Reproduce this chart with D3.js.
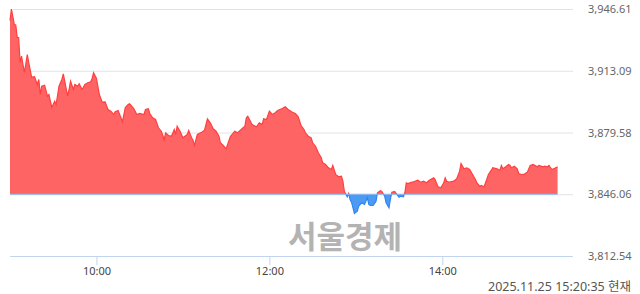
<!DOCTYPE html>
<html>
<head>
<meta charset="utf-8">
<script src="https://cdn.jsdelivr.net/npm/d3@7"></script>
<style>
	body { margin: 0; background: #fff; }
	svg text { font-family: "Noto Sans", "Noto Sans CJK KR", sans-serif; }
</style>
</head>
<body>
<div id="chart-area"></div>
<script>

// minutes after the 09:00 open
let minutes = [
	0, 1, 3, 4, 5, 6, 7, 8, 9, 10,
	12, 13, 15, 17, 19, 20, 21, 22, 24, 26,
	27, 29, 31, 32, 34, 36, 37, 40, 41, 42,
	44, 45, 47, 48, 50, 52, 54, 56, 57, 58,
	60, 62, 64, 66, 68, 70, 72, 73, 75, 77,
	78, 80, 82, 83, 86, 88, 90, 93, 94, 96,
	97, 99, 101, 103, 105, 107, 108, 110, 112, 114,
	115, 116, 118, 120, 123, 124, 126, 127, 128, 130,
	133, 135, 137, 139, 141, 143, 145, 146, 148, 150,
	151, 153, 156, 158, 161, 163, 164, 165, 168, 171,
	173, 175, 176, 178, 180, 182, 184, 186, 189, 191,
	193, 196, 198, 200, 202, 204, 205, 207, 209, 210,
	212, 214, 216, 217, 219, 221, 223, 224, 226, 228,
	230, 231, 232, 234, 235, 236, 237, 239, 241, 242,
	244, 246, 248, 249, 250, 252, 254, 255, 257, 258,
	260, 261, 263, 264, 265, 267, 268, 270, 271, 273,
	274, 275, 276, 279, 281, 283, 285, 287, 289, 291,
	294, 295, 297, 299, 301, 302, 303, 305, 308, 310,
	312, 313, 315, 317, 319, 321, 323, 324, 326, 327,
	329, 330, 332, 334, 335, 338, 340, 341, 342, 344,
	346, 347, 348, 350, 352, 353, 355, 357, 359, 361,
	363, 366, 367, 370, 371, 373, 374, 376, 378, 380
];

let prices = [
	3940.37, 3946.61, 3938.20, 3937.90, 3931.14, 3931.10, 3917.57, 3920.99, 3916.49, 3912.15,
	3921.92, 3917.57, 3909.59, 3909.90, 3905.63, 3908.35, 3900.20, 3904.71, 3905.25, 3899.28,
	3900.20, 3893.15, 3896.57, 3894.78, 3904.71, 3908.35, 3911.44, 3899.28, 3902.92, 3907.42,
	3902.92, 3905.63, 3904.71, 3906.01, 3902.92, 3905.63, 3906.55, 3907.10, 3908.89, 3911.98,
	3908.89, 3900.20, 3896.02, 3896.24, 3892.06, 3891.14, 3889.35, 3890.81, 3891.52, 3887.56,
	3885.39, 3893.15, 3894.78, 3895.16, 3892.44, 3889.35, 3889.89, 3889.35, 3892.06, 3892.44,
	3889.89, 3887.56, 3886.63, 3882.13, 3880.28, 3875.78, 3879.41, 3877.95, 3877.57, 3881.21,
	3878.49, 3883.00, 3880.28, 3876.70, 3878.49, 3880.66, 3876.70, 3875.40, 3872.52, 3878.49,
	3879.74, 3880.83, 3887.01, 3884.84, 3881.59, 3880.28, 3877.57, 3873.99, 3872.52, 3870.73,
	3873.06, 3877.57, 3880.28, 3879.41, 3881.59, 3883.00, 3887.56, 3888.42, 3883.92, 3882.67,
	3884.84, 3883.92, 3887.01, 3886.63, 3891.14, 3889.35, 3890.27, 3891.68, 3892.60, 3893.53,
	3892.06, 3890.60, 3889.89, 3888.10, 3883.38, 3881.21, 3879.41, 3877.57, 3876.70, 3873.99,
	3872.14, 3868.56, 3865.84, 3863.13, 3862.21, 3860.42, 3859.49, 3861.67, 3856.78, 3855.53,
	3855.86, 3853.14, 3847.72, 3844.68, 3846.47, 3843.21, 3841.74, 3835.61, 3836.86, 3839.57,
	3841.42, 3840.50, 3844.13, 3840.50, 3839.95, 3839.95, 3842.29, 3846.85, 3847.93, 3847.55,
	3845.00, 3841.42, 3838.70, 3843.59, 3847.17, 3847.55, 3846.47, 3844.46, 3845.00, 3844.68,
	3846.85, 3852.27, 3851.89, 3852.60, 3853.14, 3853.69, 3852.60, 3853.14, 3852.27, 3853.69,
	3854.99, 3854.07, 3850.10, 3849.56, 3852.27, 3854.99, 3853.14, 3852.60, 3853.14, 3854.45,
	3858.57, 3862.75, 3859.87, 3860.42, 3859.49, 3856.78, 3854.07, 3852.27, 3850.43, 3850.81,
	3850.10, 3852.27, 3856.78, 3859.11, 3860.42, 3859.87, 3859.11, 3861.67, 3859.87, 3860.96,
	3862.21, 3861.67, 3860.42, 3861.29, 3859.87, 3857.32, 3856.78, 3857.00, 3858.03, 3861.67,
	3862.21, 3860.96, 3861.67, 3860.96, 3861.29, 3860.96, 3861.67, 3859.49, 3860.20, 3860.96
];

let prevClose = 3846.06;
let yTicks = [3946.61, 3913.09, 3879.58, 3846.06, 3812.54];
let xTicks = [60, 180, 300];
let xTickLabels = ["10:00", "12:00", "14:00"];
let stamp = "2025.11.25 15:20:35 현재";
let watermark = "서울경제";

let width = 640,
	height = 294;

let data = minutes.map((m, i) => ({ t: m, v: prices[i] }));

drawChart(data);

function drawChart(data) {
	let svg = d3.select("#chart-area")
		.append("svg")
		.attr("width", width)
		.attr("height", height);

	let x = d3.scaleLinear()
		.domain([0, 390])
		.range([10, 572]);

	let y = d3.scaleLinear()
		.domain([yTicks[4], yTicks[0]])
		.range([256, 9]);

	// grid + right labels
	let yAxis = d3.axisRight(y)
		.tickValues(yTicks)
		.tickSize(-563)
		.tickPadding(15)
		.tickFormat(d3.format(",.2f"));

	let gy = svg.append("g")
		.attr("transform", "translate(573,0)")
		.call(yAxis);
	gy.select(".domain").remove();
	gy.selectAll("line").attr("stroke", "#e3e3e3");
	gy.selectAll("text")
		.attr("fill", "#666")
		.style("font-size", "11px");

	// watermark
	svg.append("text")
		.attr("x", 345)
		.attr("y", 234)
		.attr("text-anchor", "middle")
		.attr("dominant-baseline", "central")
		.style("font-family", "'Noto Sans CJK KR', sans-serif")
		.style("font-size", "31px")
		.style("font-weight", "bold")
		.attr("fill", "#b3b3b3")
		.text(watermark);

	let base = y(prevClose);

	let defs = svg.append("defs");
	defs.append("clipPath").attr("id", "clip-up")
		.append("rect")
		.attr("x", 0).attr("y", 0)
		.attr("width", width).attr("height", base);
	defs.append("clipPath").attr("id", "clip-down")
		.append("rect")
		.attr("x", 0).attr("y", base)
		.attr("width", width).attr("height", height - base);

	let area = d3.area()
		.x(d => x(d.t))
		.y0(base)
		.y1(d => y(d.v));

	let line = d3.line()
		.x(d => x(d.t))
		.y(d => y(d.v));

	svg.append("path")
		.datum(data)
		.attr("clip-path", "url(#clip-up)")
		.attr("fill", "#ff6464")
		.attr("d", area);

	svg.append("path")
		.datum(data)
		.attr("clip-path", "url(#clip-up)")
		.attr("fill", "none")
		.attr("stroke", "#ff4040")
		.attr("stroke-width", 1.2)
		.attr("d", line);

	svg.append("path")
		.datum(data)
		.attr("clip-path", "url(#clip-down)")
		.attr("fill", "#4b9bf5")
		.attr("d", area);

	svg.append("path")
		.datum(data)
		.attr("clip-path", "url(#clip-down)")
		.attr("fill", "none")
		.attr("stroke", "#2f86f0")
		.attr("stroke-width", 1.2)
		.attr("d", line);

	// previous close line
	svg.append("line")
		.attr("x1", x(0))
		.attr("x2", x(data[data.length - 1].t))
		.attr("y1", base)
		.attr("y2", base)
		.attr("stroke", "#8ab6f2")
		.attr("stroke-width", 1);

	// time axis
	let xAxis = d3.axisBottom(x)
		.tickValues(xTicks)
		.tickSizeInner(9)
		.tickSizeOuter(0)
		.tickPadding(2)
		.tickFormat((d, i) => xTickLabels[i]);

	let gx = svg.append("g")
		.attr("transform", "translate(0,256)")
		.call(xAxis);
	gx.select(".domain").attr("stroke", "#c3d4ee");
	gx.selectAll("line").attr("stroke", "#c3d4ee");
	gx.selectAll("text")
		.attr("fill", "#444")
		.style("font-size", "11px");

	svg.append("text")
		.attr("x", 631)
		.attr("y", 291)
		.attr("text-anchor", "end")
		.attr("fill", "#555")
		.style("font-size", "12.5px")
		.text(stamp);
}
</script>
</body>
</html>
